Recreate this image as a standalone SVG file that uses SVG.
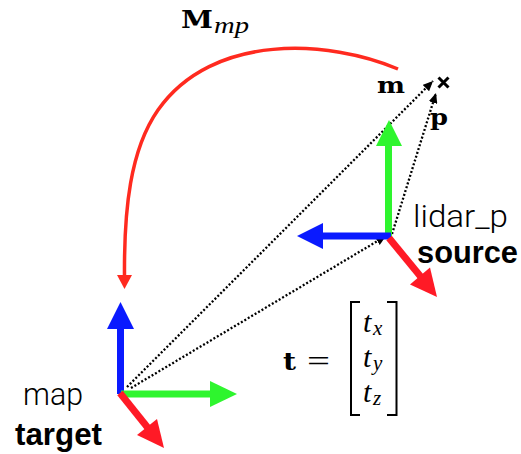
<svg xmlns="http://www.w3.org/2000/svg" width="521" height="454" viewBox="0 0 521 454">
<style>
.red{fill:#ff1a26}.grn{fill:#2ef52e}.blu{fill:#0a1aff}
.rs{stroke:#ff1a26;stroke-width:7}.gs{stroke:#2ef52e;stroke-width:7}.bs{stroke:#0a1aff;stroke-width:7}
.dot{fill:none;stroke:#000;stroke-width:2.3;stroke-dasharray:2 2}
.sans{font-family:Roboto,"Liberation Sans",sans-serif;font-weight:300;font-size:31px;fill:#000}
.sansb{font-family:"Liberation Sans",Arial,sans-serif;font-weight:bold;font-size:31px;fill:#000}
.ser{font-family:"Liberation Serif","Times New Roman",serif;fill:#000}
.serb{font-family:"DejaVu Serif","Liberation Serif",serif;font-weight:bold;fill:#000}
</style>
<defs>
<marker id="ah" markerUnits="userSpaceOnUse" markerWidth="10" markerHeight="9" refX="10" refY="4.5" orient="auto">
<path d="M0,0 L10,4.5 L0,9 z" fill="#000"/>
</marker>
</defs>
<g id="connectors">
<path class="dot" d="M127,387 L433,81" marker-end="url(#ah)"/>
<path class="dot" d="M131,388 L386,236" marker-end="url(#ah)"/>
<path class="dot" d="M392,234 L436,93" marker-end="url(#ah)"/>
<path id="Mmp-arc" d="M398,69 C330,40 213,32 158,110 C130,150 124,210 124.5,276" fill="none" stroke="#ff2a1f" stroke-width="3.5"/>
<polygon points="117,275 132,275 124.5,289" fill="#ff2a1f"/>
</g>
<g id="map-frame">
<line class="bs" x1="120.5" y1="394" x2="120.5" y2="327"/>
<polygon class="blu" points="107,329 120.5,302 134,329"/>
<line class="gs" x1="121" y1="394" x2="212" y2="394"/>
<polygon class="grn" points="210,381 237,394 210,407"/>
<line class="rs" x1="120" y1="393" x2="148" y2="428"/>
<polygon class="red" points="157,419 164,448 137,435"/>
<text class="sans" x="23" y="405" textLength="60" lengthAdjust="spacingAndGlyphs">map</text>
<text class="sansb" x="15" y="445" textLength="87" lengthAdjust="spacingAndGlyphs">target</text>
</g>
<g id="lidar-frame">
<line class="gs" x1="388.5" y1="238" x2="388.5" y2="144"/>
<polygon class="grn" points="376,146 389,120 402,146"/>
<line class="bs" x1="391" y1="236" x2="321" y2="236"/>
<polygon class="blu" points="323,223 297,236 323,249"/>
<line class="rs" x1="389" y1="238" x2="421" y2="277"/>
<polygon class="red" points="430,267.5 437,297 410,284.5"/>
<text class="sans" x="413" y="227" textLength="95" lengthAdjust="spacingAndGlyphs">lidar_p</text>
<text class="sansb" x="417" y="263" textLength="101" lengthAdjust="spacingAndGlyphs">source</text>
</g>
<g id="points">
<path d="M438.5,77.5 L448.5,87.5 M438.5,87.5 L448.5,77.5" stroke="#000" stroke-width="3" fill="none"/>
<text class="serb" x="377" y="93" font-size="22" textLength="28" lengthAdjust="spacingAndGlyphs">m</text>
<text class="serb" x="430" y="125" font-size="22" textLength="18" lengthAdjust="spacingAndGlyphs">p</text>
</g>
<g id="label-Mmp">
<text class="serb" x="181" y="28" font-size="25" textLength="32" lengthAdjust="spacingAndGlyphs">M</text>
<text class="ser" x="214" y="33" font-size="24" font-style="italic" textLength="35" lengthAdjust="spacingAndGlyphs">mp</text>
</g>
<g id="equation">
<text class="serb" x="283" y="370" font-size="24" textLength="13" lengthAdjust="spacingAndGlyphs">t</text>
<text class="ser" x="307" y="371" font-size="30" textLength="23" lengthAdjust="spacingAndGlyphs">=</text>
<path d="M360,302 H351 V415 H360 M387,302 H396.5 V415 H387" fill="none" stroke="#000" stroke-width="2"/>
<text class="ser" x="363" y="332" font-size="30" font-style="italic">t</text>
<text class="ser" x="373" y="335" font-size="21" font-style="italic">x</text>
<text class="ser" x="363" y="367" font-size="30" font-style="italic">t</text>
<text class="ser" x="373" y="370" font-size="21" font-style="italic">y</text>
<text class="ser" x="363" y="402" font-size="30" font-style="italic">t</text>
<text class="ser" x="373" y="405" font-size="21" font-style="italic">z</text>
</g>
</svg>
